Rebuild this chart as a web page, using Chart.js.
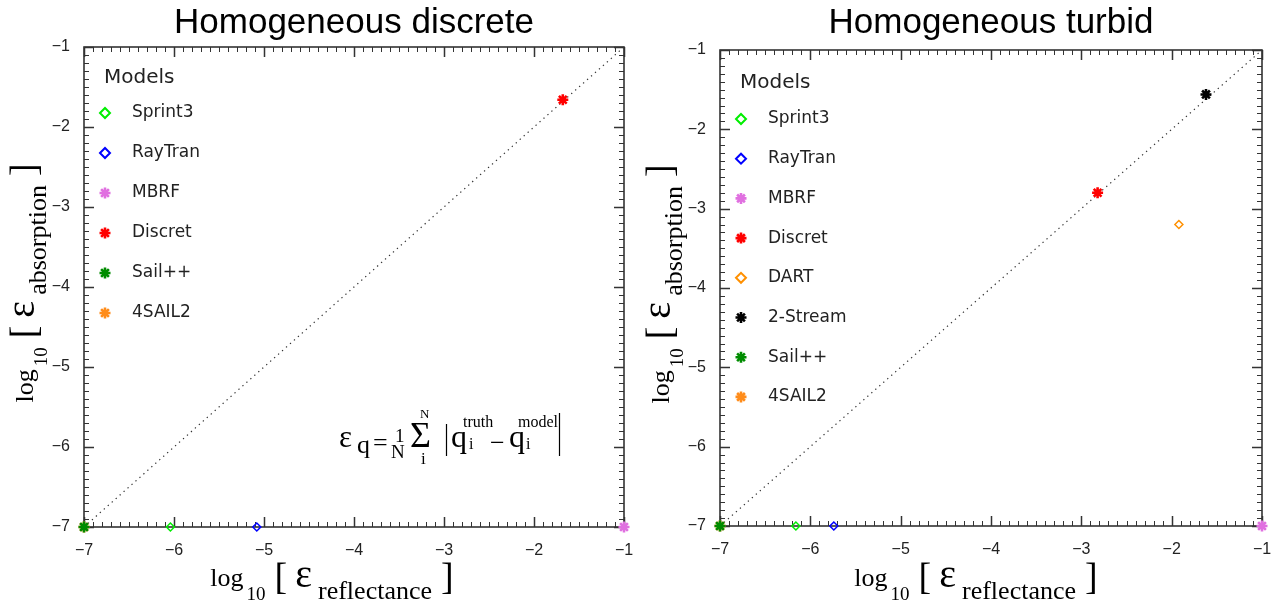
<!DOCTYPE html>
<html>
<head>
<meta charset="utf-8">
<script src="https://cdn.jsdelivr.net/npm/chart.js@4.4.1/dist/chart.umd.min.js"></script>
<style>
  html, body { margin: 0; padding: 0; background: #fff; }
  #wrap { position: relative; width: 1280px; height: 613px; }
  canvas { position: absolute; top: 0; }
</style>
</head>
<body>
<div id="wrap">
  <canvas id="discrete" width="640" height="613" style="left:0"></canvas>
  <canvas id="turbid" width="640" height="613" style="left:640px"></canvas>
</div>
<script>
// axis range / tick labels
const axisMin = -7;
const axisMax = -1;

// left panel: homogeneous discrete
const discreteModels = ['Sprint3', 'RayTran', 'MBRF', 'Discret', 'Sail++', '4SAIL2'];
const discreteReflectance = [-6.04, -5.08, -1.0, -1.68, -7.0, -7.0];
const discreteAbsorption = [-7.0, -7.0, -7.0, -1.66, -7.0, -7.0];

// right panel: homogeneous turbid
const turbidModels = ['Sprint3', 'RayTran', 'MBRF', 'Discret', 'DART', '2-Stream', 'Sail++', '4SAIL2'];
const turbidReflectance = [-6.16, -5.74, -1.0, -2.82, -1.92, -1.62, -7.0, -7.0];
const turbidAbsorption = [-7.0, -7.0, -7.0, -2.80, -3.20, -1.56, -7.0, -7.0];

// 1:1 line
const oneToOne = [-7, -1];

// marker look per model
const modelStyle = {
    'Sprint3':  { color: '#00ee00', shape: 'rectRot' },
    'RayTran':  { color: '#0000ff', shape: 'rectRot' },
    'MBRF':     { color: '#e070e0', shape: 'star' },
    'Discret':  { color: '#ff0000', shape: 'star' },
    'DART':     { color: '#ff9000', shape: 'rectRot' },
    '2-Stream': { color: '#000000', shape: 'star' },
    'Sail++':   { color: '#008c00', shape: 'star' },
    '4SAIL2':   { color: '#ff8c1a', shape: 'star' },
};

const serif = '"Liberation Serif", "Times New Roman", serif';
const sans = '"Liberation Sans", Arial, sans-serif';
const legendFont = '"DejaVu Sans", sans-serif';

function minusLabel(v) {
    return v < 0 ? '\u2212' + Math.abs(v) : String(v);
}

function drawMarker(ctx, shape, color, r, lw, x, y) {
    ctx.save();
    ctx.strokeStyle = color;
    ctx.fillStyle = 'rgba(0,0,0,0)';
    ctx.lineWidth = lw;
    Chart.helpers.drawPoint(ctx, { pointStyle: shape, radius: r, borderWidth: lw, rotation: 0 }, x, y);
    ctx.restore();
}

// text pieces laid side by side, centred on cx
function drawRich(ctx, parts, cx, baseY) {
    let total = 0;
    parts.forEach(p => {
        ctx.font = p.font;
        p.w = ctx.measureText(p.text).width;
        total += p.w + (p.gap || 0);
    });
    let x = cx - total / 2;
    ctx.textAlign = 'left';
    ctx.textBaseline = 'alphabetic';
    parts.forEach(p => {
        ctx.font = p.font;
        ctx.fillText(p.text, x, baseY + (p.dy || 0));
        x += p.w + (p.gap || 0);
    });
}

function axisParts(word) {
    return [
        { text: 'log', font: '26px ' + serif, gap: 3 },
        { text: '10', font: '19px ' + serif, dy: 14, gap: 9 },
        { text: '[', font: '38px ' + serif, dy: 3, gap: 8 },
        { text: '\u03b5', font: '40px ' + serif, dy: 1, gap: 6 },
        { text: word, font: '26px ' + serif, dy: 13, gap: 9 },
        { text: ']', font: '38px ' + serif, dy: 3 },
    ];
}

// frame with inward major/minor ticks on all four sides
const framePlugin = {
    id: 'frame',
    beforeDatasetsDraw(chart) {
        const { ctx, chartArea: a, scales: { x, y } } = chart;
        ctx.save();
        const steps = (axisMax - axisMin) * 10;
        for (let k = 0; k <= steps; k++) {
            const v = axisMin + k / 10;
            const major = k % 10 === 0;
            const len = major ? 10 : 5;
            ctx.lineWidth = major ? 1.5 : 1;
            ctx.strokeStyle = '#333';
            ctx.beginPath();
            const px = Math.round(x.getPixelForValue(v)) + 0.5;
            ctx.moveTo(px, a.bottom); ctx.lineTo(px, a.bottom - len);
            ctx.moveTo(px, a.top); ctx.lineTo(px, a.top + len);
            const py = Math.round(y.getPixelForValue(v)) + 0.5;
            ctx.moveTo(a.left, py); ctx.lineTo(a.left + len, py);
            ctx.moveTo(a.right, py); ctx.lineTo(a.right - len, py);
            ctx.stroke();
        }
        ctx.lineWidth = 1.6;
        ctx.strokeStyle = '#333';
        ctx.strokeRect(a.left, a.top, a.right - a.left, a.bottom - a.top);
        ctx.restore();
    },
    afterDraw(chart) {
        const { ctx, chartArea: a } = chart;
        const o = chart.options.plugins.frame;
        ctx.save();
        ctx.fillStyle = '#000';

        // panel title
        ctx.font = '35px ' + sans;
        ctx.textAlign = 'center';
        ctx.textBaseline = 'alphabetic';
        ctx.fillText(o.title, (a.left + a.right) / 2, 33);

        // x axis title
        drawRich(ctx, axisParts('reflectance'), o.xLabelX, 586);

        // y axis title (rotated)
        ctx.save();
        ctx.translate(a.left - 51, (a.top + a.bottom) / 2 - 4);
        ctx.rotate(-Math.PI / 2);
        drawRich(ctx, axisParts('absorption'), 0, 0);
        ctx.restore();

        // legend
        ctx.textAlign = 'left';
        ctx.textBaseline = 'middle';
        ctx.fillStyle = '#222';
        ctx.font = '20px ' + legendFont;
        ctx.fillText('Models', a.left + 20, o.legendTop);
        ctx.font = '17px ' + legendFont;
        o.models.forEach((m, i) => {
            const yy = o.legendFirst + i * o.legendStep;
            const st = modelStyle[m];
            if (st.shape === 'star') {
                drawMarker(ctx, st.shape, st.color, 5.5, 2.6, a.left + 21, yy);
            } else {
                drawMarker(ctx, st.shape, st.color, 5, 2, a.left + 21, yy);
            }
            ctx.fillStyle = '#222';
            ctx.fillText(m, a.left + 48, yy);
        });

        // error formula
        if (o.formula) {
            ctx.fillStyle = '#000';
            ctx.textAlign = 'left';
            ctx.textBaseline = 'alphabetic';
            const t = (s, f, xx, yy) => { ctx.font = f + 'px ' + serif; ctx.fillText(s, xx, yy); };
            t('\u03b5', 31, 339, 447);
            t('q', 26, 357, 453);
            t('=', 26, 373, 451);
            t('1', 19, 395, 442);
            t('N', 19, 391, 458);
            t('\u03a3', 36, 410, 447);
            t('N', 13, 420, 418);
            t('i', 17, 421, 464);
            t('q', 32, 451, 447);
            t('truth', 16, 463, 427);
            t('i', 16, 469, 449);
            t('\u2212', 26, 490, 451);
            t('q', 32, 509, 447);
            t('model', 16, 518, 427);
            t('i', 16, 526, 449);
            ctx.strokeStyle = '#000';
            ctx.lineWidth = 1.2;
            ctx.beginPath();
            ctx.moveTo(446.5, 424); ctx.lineTo(446.5, 456);
            ctx.moveTo(559.5, 413); ctx.lineTo(559.5, 456);
            ctx.stroke();
        }
        ctx.restore();
    }
};

function buildDatasets(models, refl, absn) {
    const sets = models.map((m, i) => {
        const st = modelStyle[m];
        const star = st.shape === 'star';
        return {
            label: m,
            data: [{ x: refl[i], y: absn[i] }],
            pointStyle: st.shape,
            pointRadius: star ? 5.5 : 4,
            borderWidth: star ? 2.6 : 1.5,
            borderColor: st.color,
            backgroundColor: 'rgba(0,0,0,0)',
            clip: false,
        };
    });
    sets.push({
        label: '1:1',
        data: oneToOne.map(v => ({ x: v, y: v })),
        showLine: true,
        pointRadius: 0,
        borderColor: '#333',
        borderWidth: 1.2,
        borderDash: [1.3, 4],
        clip: false,
    });
    return sets;
}

function axis(yAxis, size) {
    return {
        type: 'linear',
        min: axisMin,
        max: axisMax,
        grid: { display: false },
        border: { display: false },
        ticks: {
            stepSize: 1,
            padding: 6,
            color: '#222',
            font: { family: 'Liberation Sans', size: 16 },
            callback: minusLabel,
        },
        afterFit(scale) {
            if (yAxis) scale.width = size; else scale.height = size;
        },
    };
}

function makePanel(id, title, models, refl, absn, opts) {
    return new Chart(document.getElementById(id), {
        type: 'scatter',
        data: { datasets: buildDatasets(models, refl, absn) },
        options: {
            responsive: false,
            animation: false,
            events: [],
            layout: { padding: { top: opts.top, right: opts.right, left: 0, bottom: 0 } },
            scales: {
                x: axis(false, 613 - opts.bottom),
                y: axis(true, opts.left),
            },
            plugins: {
                legend: { display: false },
                tooltip: { enabled: false },
                frame: {
                    title: title,
                    models: models,
                    xLabelX: opts.xLabelX,
                    legendTop: opts.legendTop,
                    legendFirst: opts.legendFirst,
                    legendStep: opts.legendStep,
                    formula: opts.formula,
                },
            },
        },
        plugins: [framePlugin],
    });
}

makePanel('discrete', 'Homogeneous discrete', discreteModels, discreteReflectance, discreteAbsorption, {
    top: 47, bottom: 527, left: 84, right: 16,
    xLabelX: 332, legendTop: 78, legendFirst: 113, legendStep: 40, formula: true,
});

makePanel('turbid', 'Homogeneous turbid', turbidModels, turbidReflectance, turbidAbsorption, {
    top: 50, bottom: 526, left: 80, right: 18,
    xLabelX: 336, legendTop: 83, legendFirst: 119, legendStep: 39.7, formula: false,
});
</script>
</body>
</html>
